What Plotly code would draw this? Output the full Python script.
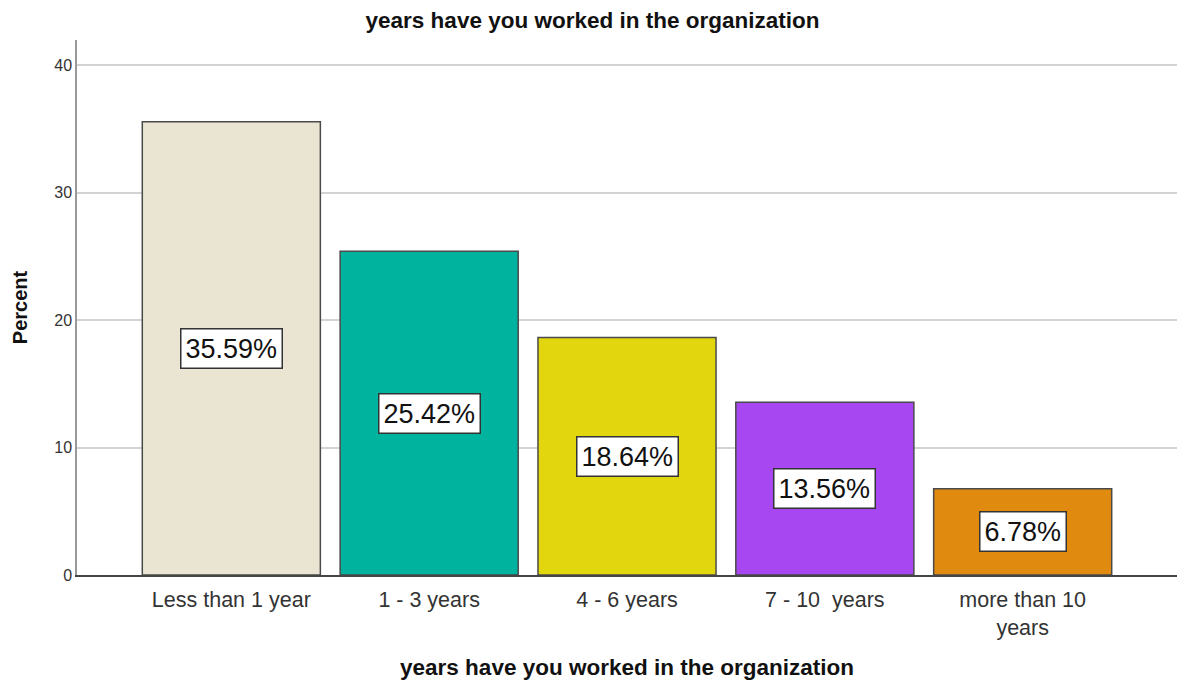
import plotly.graph_objects as go

categories = ["Less than 1 year", "1 - 3 years", "4 - 6 years", "7 - 10  years", "more than 10 years"]
tick_labels = ["Less than 1 year", "1 - 3 years", "4 - 6 years", "7 - 10  years", "more than 10<br>years"]
percent = [35.59, 25.42, 18.64, 13.56, 6.78]
bar_colors = ["#EAE5D3", "#00B39E", "#E2D60F", "#A647F2", "#E08A10"]
y_ticks = [0, 10, 20, 30, 40]

fig = go.Figure()
fig.add_trace(go.Bar(
    x=categories, y=percent,
    marker=dict(color=bar_colors, line=dict(color="#4a4a4a", width=1.5)),
    width=0.9, hoverinfo="skip", showlegend=False,
))

for c, v in zip(categories, percent):
    fig.add_annotation(
        x=c, y=v / 2, text=f"{v:.2f}%", showarrow=False,
        font=dict(family="Liberation Sans, Arial", size=27, color="#111"),
        bgcolor="white", bordercolor="#333", borderwidth=1.5, borderpad=4,
    )

fig.update_layout(
    width=1185, height=680,
    margin=dict(l=77, r=8, t=40, b=105),
    paper_bgcolor="white", plot_bgcolor="white",
    font=dict(family="Liberation Sans, Arial", color="#222"),
    title=dict(text="<b>years have you worked in the organization</b>",
               x=0.5, xanchor="center", y=0.97, yanchor="middle",
               font=dict(size=22.5, color="#111")),
)
fig.update_xaxes(
    tickmode="array", tickvals=categories, ticktext=tick_labels,
    range=[-0.78, 4.78], automargin=False,
    tickfont=dict(size=21.5, color="#333"),
    showline=True, linecolor="#444", linewidth=1.5,
    ticks="outside", ticklen=4, tickcolor="white",
    title=dict(text="<b>years have you worked in the organization</b>",
               font=dict(size=22.5, color="#111"), standoff=22),
)
fig.update_yaxes(
    range=[0, 42], tickvals=y_ticks, automargin=False,
    tickfont=dict(size=16, color="#333"),
    showgrid=True, gridcolor="#D3D3D3", gridwidth=2,
    showline=True, linecolor="#999", linewidth=1.5,
    zeroline=False,
    title=dict(text="<b>Percent</b>", font=dict(size=20, color="#111"), standoff=21),
)

fig.write_html("out.html")
